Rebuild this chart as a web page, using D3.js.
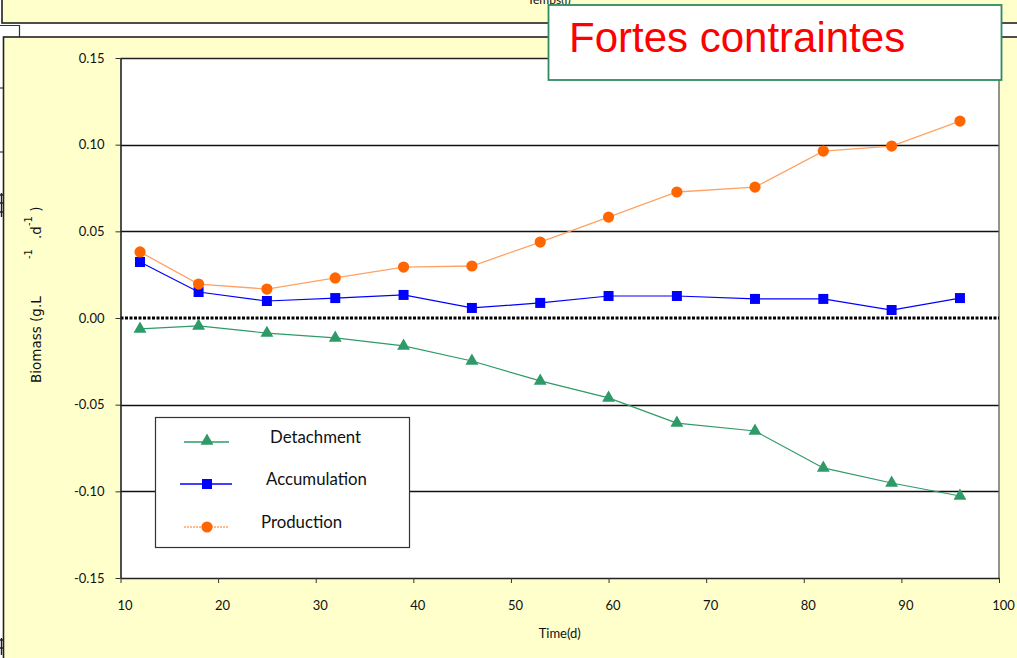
<!DOCTYPE html>
<html>
<head>
<meta charset="utf-8">
<script src="https://cdn.jsdelivr.net/npm/d3@7"></script>
<style>
  html, body { margin: 0; padding: 0; background: #ffffff; }
  svg { display: block; }
</style>
</head>
<body>
<svg id="chart" width="1017" height="658"></svg>
<script>
// ---------- data ----------
const times = [12, 18, 25, 32, 39, 46, 53, 60, 67, 75, 82, 89, 96];
const detachment = [-0.0063, -0.0046, -0.0087, -0.0115, -0.0161, -0.0248, -0.0363, -0.0461, -0.0606, -0.0652, -0.0865, -0.0952, -0.1027];
const accumulation = [0.0323, 0.0150, 0.0098, 0.0115, 0.0133, 0.0058, 0.0087, 0.0127, 0.0127, 0.0110, 0.0110, 0.0046, 0.0115];
const production = [0.0381, 0.0196, 0.0167, 0.0231, 0.0294, 0.0300, 0.0438, 0.0582, 0.0727, 0.0755, 0.0963, 0.0992, 0.1136];
const seriesNames = ["Detachment", "Accumulation", "Production"];
const xTicks = [10, 20, 30, 40, 50, 60, 70, 80, 90, 100];
const yTicks = [-0.15, -0.10, -0.05, 0.00, 0.05, 0.10, 0.15];
const gridValues = [-0.10, -0.05, 0.05, 0.10];
const titleText = "Fortes contraintes";
const xTitle = "Time(d)";
const behindTitle = "Temps(j)";

// ---------- layout ----------
const svg = d3.select("#chart");
const W = 1017, H = 658;
const plot = { left: 120.5, right: 999, top: 58, bottom: 578 };
const yellow = "#FFFFCC";
const font = "Lato, 'DejaVu Sans', sans-serif";

// background frames (pieces of charts behind)
svg.append("rect").attr("x", 0).attr("y", 0).attr("width", W).attr("height", H).attr("fill", "#ffffff");
// frame A (top)
svg.append("rect").attr("x", 2).attr("y", -10).attr("width", W + 20).attr("height", 33)
  .attr("fill", yellow).attr("stroke", "#222").attr("stroke-width", 1.6);
svg.append("text").attr("x", 549).attr("y", 4).attr("text-anchor", "middle")
  .attr("font-family", font).attr("font-size", 12).attr("fill", "#111").text(behindTitle);
// small piece of another frame
svg.append("path").attr("d", "M0,25.5 H19.5 V37").attr("fill", "none").attr("stroke", "#333").attr("stroke-width", 1.2);
// frame B (main chart area)
svg.append("rect").attr("x", 3.5).attr("y", 37).attr("width", W + 20).attr("height", H + 20)
  .attr("fill", yellow).attr("stroke", "#222").attr("stroke-width", 1.6);
// left edge marks
[[0, 88], [0, 152]].forEach(([x, y]) => svg.append("line").attr("x1", x).attr("x2", x + 3).attr("y1", y).attr("y2", y).attr("stroke", "#333").attr("stroke-width", 1.2));
svg.append("path").attr("d", "M0,195 H3 M0,203 H3 M0,212 H3 M1.5,193 V217").attr("stroke", "#222").attr("stroke-width", 1.4).attr("fill", "none");
svg.append("path").attr("d", "M0,640 H3 M0,648 H3 M1.5,638 V655").attr("stroke", "#222").attr("stroke-width", 1.4).attr("fill", "none");

// scales
const x = d3.scaleLinear().domain([10, 100]).range([plot.left, plot.right]);
const y = d3.scaleLinear().domain([-0.15, 0.15]).range([plot.bottom, plot.top]);

// plot area
svg.append("rect").attr("x", plot.left).attr("y", plot.top)
  .attr("width", plot.right - plot.left).attr("height", plot.bottom - plot.top)
  .attr("fill", "#ffffff");

// gridlines
svg.append("g").selectAll("line").data(gridValues).join("line")
  .attr("x1", plot.left).attr("x2", plot.right)
  .attr("y1", d => Math.round(y(d)) + 0.5).attr("y2", d => Math.round(y(d)) + 0.5)
  .attr("stroke", "#111").attr("stroke-width", 1.4);
// top & right border
svg.append("line").attr("x1", plot.left).attr("x2", plot.right).attr("y1", plot.top + 0.5).attr("y2", plot.top + 0.5)
  .attr("stroke", "#222").attr("stroke-width", 1.6);
svg.append("line").attr("x1", plot.right).attr("x2", plot.right).attr("y1", plot.top).attr("y2", plot.bottom)
  .attr("stroke", "#666").attr("stroke-width", 1.4);
// zero line (dotted)
svg.append("line").attr("x1", plot.left).attr("x2", plot.right).attr("y1", y(0)).attr("y2", y(0))
  .attr("stroke", "#000").attr("stroke-width", 3).attr("stroke-dasharray", "3,1.5");

// axes
const yAxis = d3.axisLeft(y).tickValues(yTicks).tickFormat(d => d.toFixed(2)).tickSize(5).tickSizeOuter(0).tickPadding(11);
const gy = svg.append("g").attr("transform", `translate(${plot.left},0)`).call(yAxis);
gy.select(".domain").attr("stroke", "#222").attr("stroke-width", 1.6);
gy.selectAll(".tick line").attr("stroke", "#333");
gy.selectAll("text").attr("font-family", font).attr("font-size", 13).attr("fill", "#111");

const xAxis = d3.axisBottom(x).tickValues(xTicks).tickFormat(d => String(d)).tickSize(5).tickSizeOuter(0).tickPadding(18);
const gx = svg.append("g").attr("transform", `translate(0,${plot.bottom})`).call(xAxis);
gx.select(".domain").attr("stroke", "#222").attr("stroke-width", 1.6);
gx.selectAll(".tick line").attr("stroke", "#333");
gx.selectAll("text").attr("font-family", font).attr("font-size", 13).attr("fill", "#111").attr("dx", 4);

// axis titles
svg.append("text").attr("x", (plot.left + plot.right) / 2).attr("y", 638).attr("text-anchor", "middle")
  .attr("font-family", font).attr("font-size", 13).attr("fill", "#111").text(xTitle);

const yl = svg.append("text").attr("transform", "translate(41,383) rotate(-90)")
  .attr("font-family", "'DejaVu Sans', sans-serif").attr("font-size", 13.5).attr("fill", "#111");
yl.append("tspan").attr("x", 0).attr("y", 0).text("Biomass (g.L");
yl.append("tspan").attr("x", 124).attr("y", -9).attr("font-size", 10).text("-1");
yl.append("tspan").attr("x", 144).attr("y", 0).text(".d");
yl.append("tspan").attr("x", 157).attr("y", -9).attr("font-size", 10).text("-1");
yl.append("tspan").attr("x", 167).attr("y", 0).text(" )");

// series
const green = "#2E9A68", blue = "#0000FF", orange = "#FF6600";
const pts = arr => arr.map((v, i) => [times[i], v]);
const line = d3.line().x(d => x(d[0])).y(d => y(d[1]));

svg.append("path").attr("d", line(pts(detachment))).attr("fill", "none").attr("stroke", green).attr("stroke-width", 1.2);
svg.append("path").attr("d", line(pts(accumulation))).attr("fill", "none").attr("stroke", blue).attr("stroke-width", 1.2);
svg.append("path").attr("d", line(pts(production))).attr("fill", "none").attr("stroke", "#FFA264").attr("stroke-width", 1.3);

const tri = d3.symbol().type(d3.symbolTriangle).size(72);
const sq = d3.symbol().type(d3.symbolSquare).size(100);

svg.append("g").selectAll("path").data(pts(detachment)).join("path")
  .attr("d", tri).attr("transform", d => `translate(${x(d[0])},${y(d[1])})`).attr("fill", green);
svg.append("g").selectAll("path").data(pts(accumulation)).join("path")
  .attr("d", sq).attr("transform", d => `translate(${x(d[0])},${y(d[1])})`).attr("fill", blue);
svg.append("g").selectAll("circle").data(pts(production)).join("circle")
  .attr("cx", d => x(d[0])).attr("cy", d => y(d[1])).attr("r", 5.6).attr("fill", orange);

// legend
const lg = svg.append("g");
lg.append("rect").attr("x", 155.5).attr("y", 417.5).attr("width", 254).attr("height", 130)
  .attr("fill", "#ffffff").attr("stroke", "#333").attr("stroke-width", 1.2);
const legendItems = [
  { name: seriesNames[0], ly: 442, lx1: 184, lx2: 229, tx: 270, color: green, lineColor: green, dash: null, kind: "tri" },
  { name: seriesNames[1], ly: 484, lx1: 180, lx2: 232, tx: 266, color: blue, lineColor: blue, dash: null, kind: "sq" },
  { name: seriesNames[2], ly: 527, lx1: 184, lx2: 229, tx: 261, color: orange, lineColor: "#FFA264", dash: "2,1", kind: "circ" }
];
legendItems.forEach(it => {
  lg.append("line").attr("x1", it.lx1).attr("x2", it.lx2).attr("y1", it.ly).attr("y2", it.ly)
    .attr("stroke", it.lineColor).attr("stroke-width", 1.3).attr("stroke-dasharray", it.dash);
  if (it.kind === "tri") lg.append("path").attr("d", tri).attr("transform", `translate(207,${it.ly - 1})`).attr("fill", it.color);
  if (it.kind === "sq") lg.append("path").attr("d", sq).attr("transform", `translate(207,${it.ly})`).attr("fill", it.color);
  if (it.kind === "circ") lg.append("circle").attr("cx", 207).attr("cy", it.ly).attr("r", 5.6).attr("fill", it.color);
  lg.append("text").attr("x", it.tx).attr("y", it.ly - 5).attr("dy", "0.35em")
    .attr("font-family", font).attr("font-size", 16.8).attr("fill", "#111").text(it.name);
});

// title box
svg.append("rect").attr("x", 548.5).attr("y", 5).attr("width", 453).attr("height", 75)
  .attr("fill", "#ffffff").attr("stroke", "#2E8B62").attr("stroke-width", 1.8);
svg.append("text").attr("x", 569).attr("y", 52)
  .attr("font-family", "'Liberation Sans', Arial, sans-serif").attr("font-size", 42).attr("fill", "#FF0000").text(titleText);
</script>
</body>
</html>
